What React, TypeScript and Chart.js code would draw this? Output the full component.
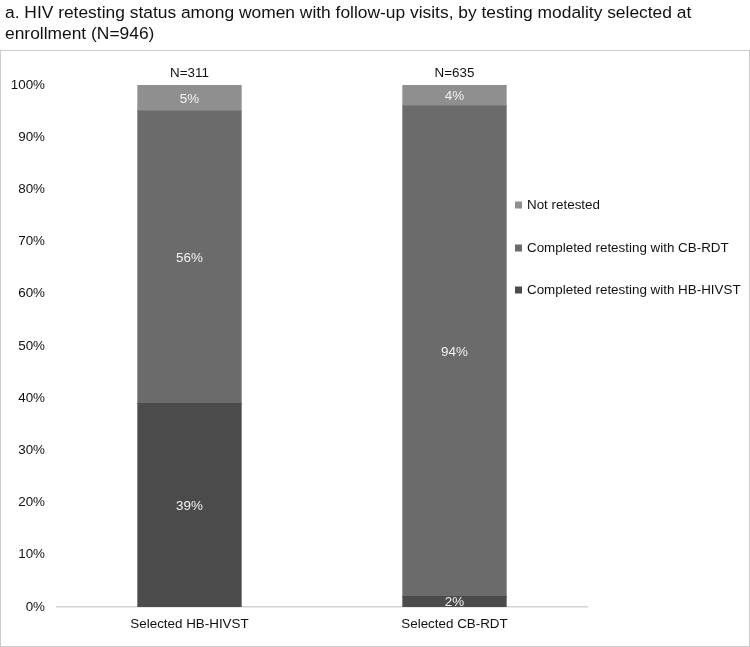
import React, { useEffect, useRef } from "react";
import { Chart, registerables } from "chart.js";

Chart.register(...registerables);

const titleLines = [
  "a. HIV retesting status among women with follow-up visits, by testing modality selected at",
  "enrollment (N=946)",
];
const categories = ["Selected HB-HIVST", "Selected CB-RDT"];
const sampleSizes = ["N=311", "N=635"];
const seriesNames = [
  "Completed retesting with HB-HIVST",
  "Completed retesting with CB-RDT",
  "Not retested",
];
const hbHivst = [39, 2];
const cbRdt = [56, 94];
const notRetested = [5, 4];
const seriesColors = ["#4b4b4b", "#6b6b6b", "#8f8f8f"];
const yTickValues = [0, 10, 20, 30, 40, 50, 60, 70, 80, 90, 100];

const FONT = "'Liberation Sans', Arial, sans-serif";

const decorPlugin = {
  id: "decor",
  beforeDraw(chart: any) {
    const ctx = chart.ctx;
    ctx.save();
    ctx.fillStyle = "#ffffff";
    ctx.fillRect(0, 0, chart.width, chart.height);
    ctx.strokeStyle = "#cccccc";
    ctx.lineWidth = 1;
    ctx.strokeRect(0.5, 50.5, chart.width - 1, chart.height - 51);
    ctx.fillStyle = "#111111";
    ctx.font = `17.4px ${FONT}`;
    ctx.textAlign = "left";
    ctx.textBaseline = "alphabetic";
    ctx.fillText(titleLines[0], 5, 18);
    ctx.fillText(titleLines[1], 5, 39);
    ctx.restore();
  },
  afterDatasetsDraw(chart: any) {
    const ctx = chart.ctx;
    ctx.save();
    ctx.font = `13.4px ${FONT}`;
    ctx.textAlign = "center";
    ctx.textBaseline = "middle";
    chart.data.datasets.forEach((ds: any, di: number) => {
      const meta = chart.getDatasetMeta(di);
      meta.data.forEach((el: any, i: number) => {
        const v = ds.data[i];
        const cy = (el.y + el.base) / 2;
        ctx.fillStyle = "#f2f2f2";
        ctx.fillText(`${v}%`, el.x, cy + 1);
      });
    });
    const topMeta = chart.getDatasetMeta(chart.data.datasets.length - 1);
    topMeta.data.forEach((el: any, i: number) => {
      ctx.fillStyle = "#111111";
      ctx.fillText(sampleSizes[i], el.x, el.y - 12);
    });
    // legend
    const order = [2, 1, 0];
    const ys = [205, 248, 290];
    ctx.textAlign = "left";
    order.forEach((di, k) => {
      ctx.fillStyle = seriesColors[di];
      ctx.fillRect(515, ys[k] - 3.5, 7, 7);
      ctx.fillStyle = "#111111";
      ctx.fillText(seriesNames[di], 527, ys[k]);
    });
    ctx.restore();
  },
};

export default function App() {
  const ref = useRef<HTMLCanvasElement>(null);
  useEffect(() => {
    if (!ref.current) return;
    const values = [hbHivst, cbRdt, notRetested];
    const chart = new Chart(ref.current, {
      type: "bar",
      data: {
        labels: categories,
        datasets: values.map((d, i) => ({
          label: seriesNames[i],
          data: d,
          backgroundColor: seriesColors[i],
          borderWidth: 0,
          inflateAmount: 0.5,
          barPercentage: 0.39,
          categoryPercentage: 1,
        })),
      },
      options: {
        responsive: false,
        animation: false,
        layout: { padding: { top: 85, right: 163, left: 0, bottom: 0 } },
        plugins: {
          legend: { display: false },
          title: { display: false },
          tooltip: { enabled: false },
        },
        scales: {
          x: {
            stacked: true,
            grid: { display: false, drawTicks: false },
            border: { display: true, color: "#d4d4d4", width: 1.5 },
            ticks: {
              color: "#111111",
              font: { family: FONT, size: 13.4 },
              padding: 9,
            },
            afterFit: (s: any) => {
              s.height = 40;
            },
          },
          y: {
            stacked: true,
            min: 0,
            max: 100,
            afterBuildTicks: (s: any) => {
              s.ticks = yTickValues.map((v) => ({ value: v }));
            },
            grid: { display: false, drawTicks: false },
            border: { display: false },
            ticks: {
              color: "#111111",
              font: { family: FONT, size: 13.4 },
              padding: 12,
              callback: (v: any) => `${v}%`,
            },
            afterFit: (s: any) => {
              s.width = 57;
            },
          },
        },
      },
      plugins: [decorPlugin],
    });
    return () => chart.destroy();
  }, []);
  return (
    <div style={{ position: "absolute", left: 0, top: 0, width: 750, height: 647 }}>
      <canvas ref={ref} width={750} height={647} style={{ width: 750, height: 647, display: "block" }} />
    </div>
  );
}
